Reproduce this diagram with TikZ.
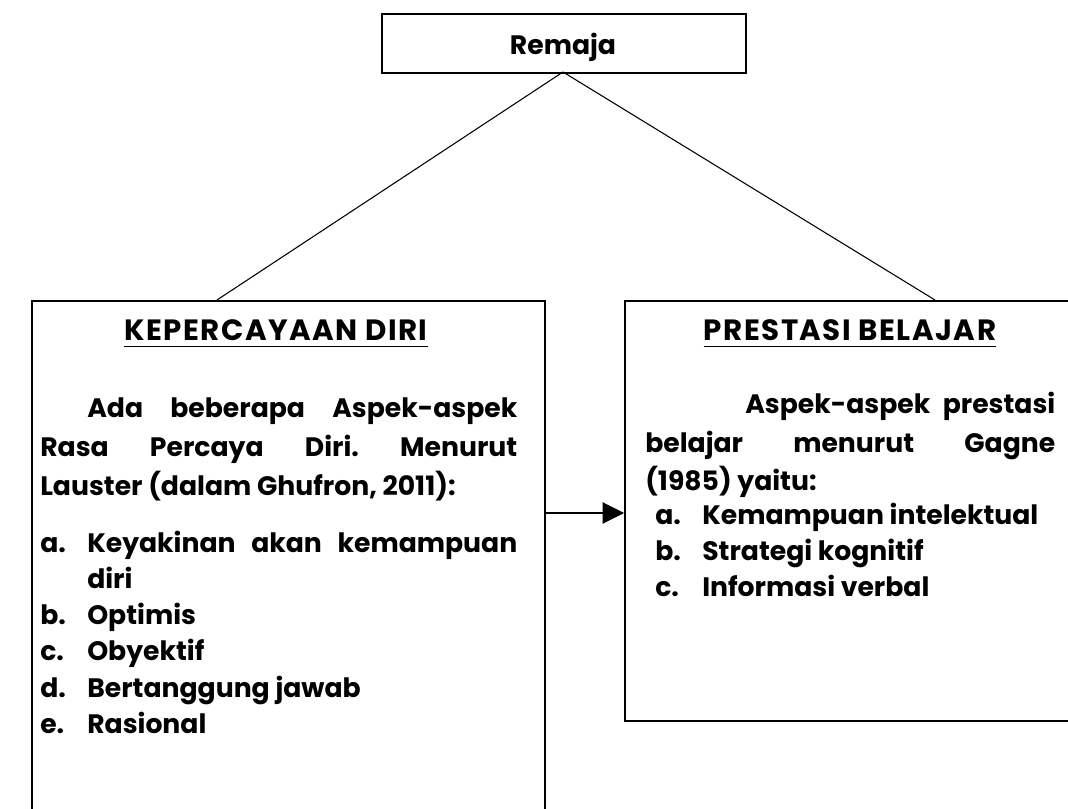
\documentclass[tikz,border=0pt]{standalone}
\usepackage{fontspec}
\setmainfont{Poppins}
\usetikzlibrary{arrows.meta}
\frenchspacing
\begin{document}
\begin{tikzpicture}[x=0.75pt,y=-0.75pt,
  boxframe/.style={draw=black,line width=1.2pt,inner sep=0pt,anchor=north west},
  conn/.style={draw=black,line width=0.8pt},
  txt/.style={inner sep=0pt,anchor=base west,font=\fontsize{20}{24}\selectfont\bfseries},
  head/.style={inner sep=0pt,anchor=base,font=\fontsize{20}{24}\selectfont\bfseries},
  bighead/.style={inner sep=0pt,anchor=base,font=\fontsize{22}{26}\selectfont\bfseries\addfontfeatures{LetterSpace=5}},
  uline/.style={draw=black,line width=1.1pt}
]
\useasboundingbox (0,0) rectangle (1068,809);
\fill[white] (0,0) rectangle (1068,809);

% boxes
\node[boxframe,minimum width=273pt,minimum height=44.25pt] (topbox) at (381,13) {};
\node[boxframe,minimum width=384.75pt,minimum height=420pt] (leftbox) at (31,300) {};
\node[boxframe,minimum width=360pt,minimum height=315pt] (rightbox) at (624,300) {};

\node[head] (remaja) at (563,55) {Remaja};

% connectors
\coordinate (apex) at (563,72);
\coordinate (lj) at (217,300);
\coordinate (rj) at (935,300);
\draw[conn] (apex) -- (lj);
\draw[conn] (apex) -- (rj);
\coordinate (ay) at (0,513);
\draw[conn,-{Triangle[length=16pt,width=16pt]}] (leftbox.east |- ay) -- (rightbox.west |- ay);

% left heading
\node[bighead] (h1) at (276,341) {KEPERCAYAAN DIRI};
\draw[uline] ([yshift=-4pt]h1.base west) -- ([yshift=-4pt]h1.base east);
% right heading
\node[bighead] (h2) at (850,341) {PRESTASI BELAJAR};
\draw[uline] ([yshift=-4pt]h2.base west) -- ([yshift=-4pt]h2.base east);

% left paragraph
\node[txt] (lp1) at (87,417) {\makebox[322.5pt][s]{Ada beberapa Aspek-aspek}};
\node[txt] (lp2) at (40,456) {\makebox[357.75pt][s]{Rasa Percaya Diri. Menurut}};
\node[txt] (lp3) at (40,495) {Lauster (dalam Ghufron, 2011):};

% left list
\node[txt] (la) at (40,552) {a.};
\node[txt] (lat) at (87,552) {\makebox[322.5pt][s]{Keyakinan akan kemampuan}};
\node[txt] (lat2) at (87,588) {diri};
\node[txt] (lb) at (40,624) {b.};
\node[txt] (lbt) at (87,624) {Optimis};
\node[txt] (lc) at (40,660) {c.};
\node[txt] (lct) at (87,660) {Obyektif};
\node[txt] (ld) at (40,697) {d.};
\node[txt] (ldt) at (87,697) {Bertanggung jawab};
\node[txt] (le) at (40,733) {e.};
\node[txt] (let) at (87,733) {Rasional};

% right paragraph
\node[txt] (rp1) at (745,413) {\makebox[232.5pt][s]{Aspek-aspek prestasi}};
\node[txt] (rp2) at (645,452) {\makebox[307.5pt][s]{belajar menurut Gagne}};
\node[txt] (rp3) at (645,490) {(1985) yaitu:};

% right list
\node[txt] (ra) at (655,524) {a.};
\node[txt] (rat) at (702,524) {Kemampuan intelektual};
\node[txt] (rb) at (655,560) {b.};
\node[txt] (rbt) at (702,560) {Strategi kognitif};
\node[txt] (rc) at (655,596) {c.};
\node[txt] (rct) at (702,596) {Informasi verbal};
\end{tikzpicture}
\end{document}
